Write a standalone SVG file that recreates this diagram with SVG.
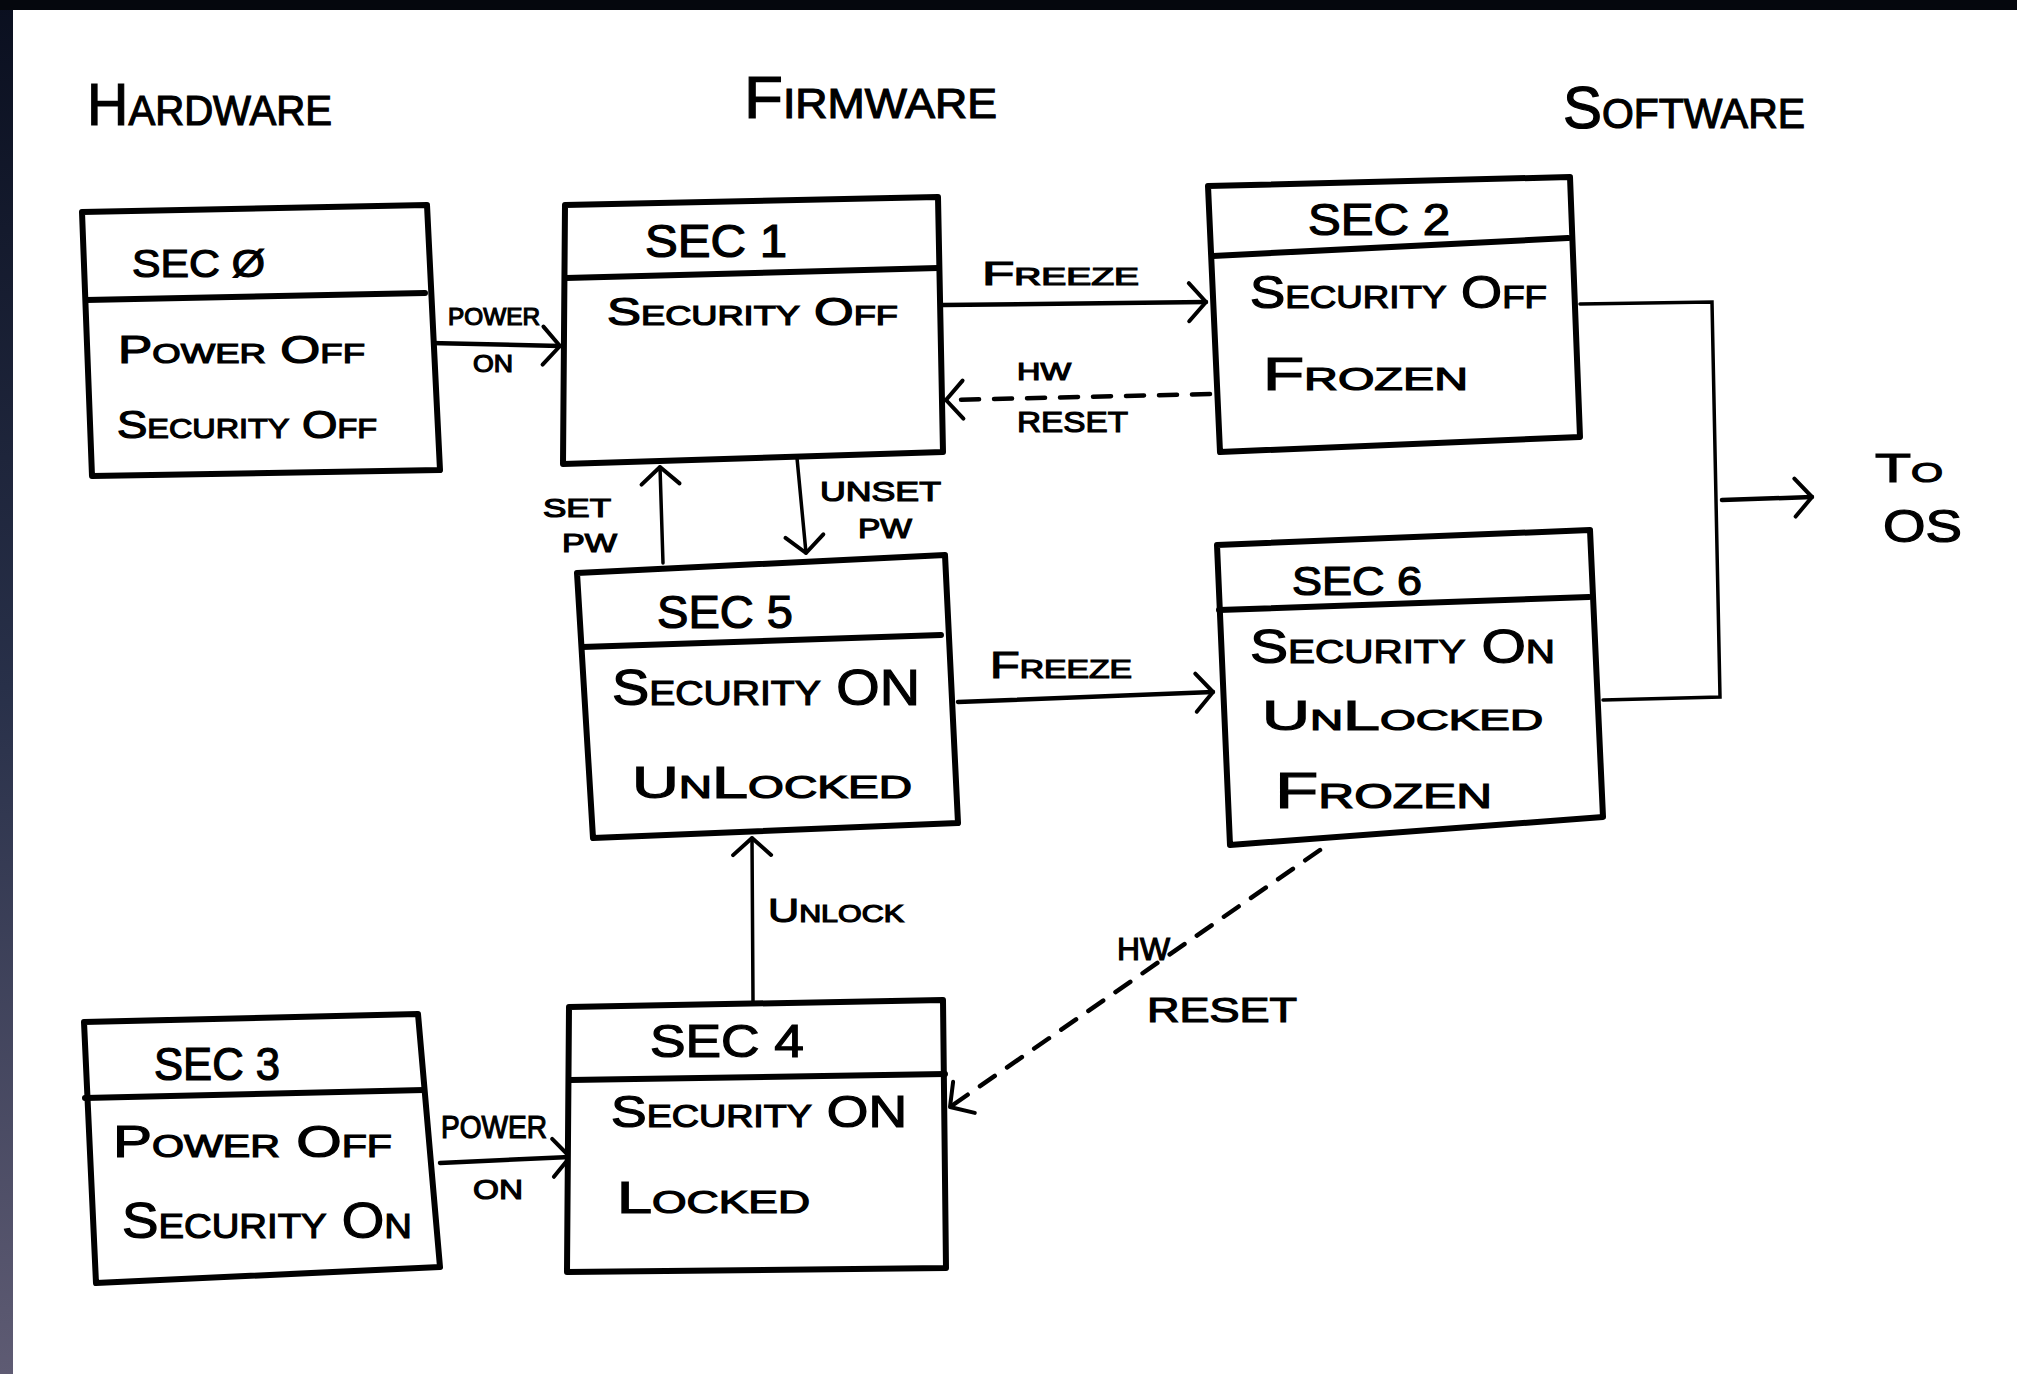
<svg xmlns="http://www.w3.org/2000/svg" width="2017" height="1374" viewBox="0 0 2017 1374">
<defs>
<linearGradient id="edge" x1="0" y1="0" x2="0" y2="1">
<stop offset="0" stop-color="#0a0f1f"/>
<stop offset="0.5" stop-color="#283049"/>
<stop offset="1" stop-color="#5e5b73"/>
</linearGradient>
<marker id="arr" viewBox="-22 -24 26 48" refX="0" refY="0" markerWidth="26" markerHeight="48" markerUnits="userSpaceOnUse" orient="auto">
<path d="M-17,-19 L0,0 L-17,19" fill="none" stroke="#000" stroke-width="4" stroke-linecap="round" stroke-linejoin="round"/>
</marker>
<style>
.box{fill:#fff;stroke:#000;stroke-width:6;stroke-linejoin:round}
.div{fill:none;stroke:#000;stroke-width:6;stroke-linecap:round}
.t{font-family:"Liberation Sans",Arial,sans-serif;font-variant:small-caps;fill:#000;stroke:#000;stroke-width:1.2}
.c{fill:none;stroke:#000;stroke-width:4.5;stroke-linecap:round}
.thin{stroke-width:3.5}
.dash{stroke-dasharray:18 15}
</style>
</defs>
<rect width="2017" height="1374" fill="#fff"/>
<rect x="0" y="0" width="13" height="1374" fill="url(#edge)"/>
<rect x="0" y="0" width="2017" height="10" fill="#05070d"/>

<g id="headings">
<text class="t" x="87" y="125" font-size="60" textLength="245" lengthAdjust="spacingAndGlyphs">Hardware</text>
<text class="t" x="744" y="118" font-size="60" textLength="253" lengthAdjust="spacingAndGlyphs">Firmware</text>
<text class="t" x="1563" y="128" font-size="60" textLength="242" lengthAdjust="spacingAndGlyphs">Software</text>
</g>

<g id="connectors">
<path class="c" d="M430,343 L560,346" marker-end="url(#arr)"/>
<path class="c" d="M943,305 L1206,302" marker-end="url(#arr)"/>
<path class="c dash" d="M1210,394 L946,400" marker-end="url(#arr)"/>
<path class="c thin" d="M797,458 L806,553" marker-end="url(#arr)"/>
<path class="c thin" d="M663,563 L660,467" marker-end="url(#arr)"/>
<path class="c" d="M958,702 L1213,692" marker-end="url(#arr)"/>
<path class="c thin" d="M753,1001 L752,838" marker-end="url(#arr)"/>
<path class="c dash" d="M1320,850 L950,1107" marker-end="url(#arr)"/>
<path class="c" d="M440,1163 L570,1157" marker-end="url(#arr)"/>
<path class="c thin" d="M1580,304 L1712,302 L1720,697 L1603,700"/>
<path class="c" d="M1722,500 L1812,497" marker-end="url(#arr)"/>
<text class="t" x="448" y="325" font-size="24" textLength="92" lengthAdjust="spacingAndGlyphs">POWER</text>
<text class="t" x="473" y="372" font-size="24" textLength="40" lengthAdjust="spacingAndGlyphs">ON</text>
<text class="t" x="982" y="285" font-size="34" textLength="157" lengthAdjust="spacingAndGlyphs">Freeze</text>
<text class="t" x="1017" y="380" font-size="24" textLength="54" lengthAdjust="spacingAndGlyphs">HW</text>
<text class="t" x="1017" y="432" font-size="30" textLength="111" lengthAdjust="spacingAndGlyphs">RESET</text>
<text class="t" x="543" y="517" font-size="26" textLength="68" lengthAdjust="spacingAndGlyphs">SET</text>
<text class="t" x="562" y="552" font-size="26" textLength="55" lengthAdjust="spacingAndGlyphs">PW</text>
<text class="t" x="820" y="501" font-size="27" textLength="121" lengthAdjust="spacingAndGlyphs">UNSET</text>
<text class="t" x="858" y="538" font-size="27" textLength="54" lengthAdjust="spacingAndGlyphs">PW</text>
<text class="t" x="990" y="678" font-size="36" textLength="142" lengthAdjust="spacingAndGlyphs">Freeze</text>
<text class="t" x="768" y="922" font-size="34" textLength="136" lengthAdjust="spacingAndGlyphs">Unlock</text>
<text class="t" x="441" y="1138" font-size="32" textLength="106" lengthAdjust="spacingAndGlyphs">POWER</text>
<text class="t" x="473" y="1199" font-size="28" textLength="50" lengthAdjust="spacingAndGlyphs">ON</text>
<text class="t" x="1117" y="960" font-size="32" textLength="53" lengthAdjust="spacingAndGlyphs">HW</text>
<text class="t" x="1147" y="1022" font-size="35" textLength="150" lengthAdjust="spacingAndGlyphs">RESET</text>
<text class="t" x="1875" y="482" font-size="40" textLength="68" lengthAdjust="spacingAndGlyphs">To</text>
<text class="t" x="1883" y="542" font-size="46" textLength="79" lengthAdjust="spacingAndGlyphs">OS</text>
</g>

<g id="sec0">
<path class="box" d="M82,212 L427,205 L440,470 L92,476 Z"/>
<path class="div" d="M86,300 L425,293"/>
<text class="t" x="132" y="277" font-size="39" textLength="133" lengthAdjust="spacingAndGlyphs">SEC Ø</text>
<text class="t" x="118" y="363" font-size="38" textLength="247" lengthAdjust="spacingAndGlyphs">Power Off</text>
<text class="t" x="117" y="438" font-size="38" textLength="260" lengthAdjust="spacingAndGlyphs">Security Off</text>
</g>

<g id="sec1">
<path class="box" d="M565,205 L938,197 L943,452 L563,464 Z"/>
<path class="div" d="M566,278 L938,268"/>
<text class="t" x="645" y="257" font-size="46" textLength="142" lengthAdjust="spacingAndGlyphs">SEC 1</text>
<text class="t" x="607" y="325" font-size="38" textLength="291" lengthAdjust="spacingAndGlyphs">Security Off</text>
</g>

<g id="sec2">
<path class="box" d="M1208,186 L1570,177 L1580,437 L1220,452 Z"/>
<path class="div" d="M1213,256 L1568,238"/>
<text class="t" x="1308" y="235" font-size="44" textLength="142" lengthAdjust="spacingAndGlyphs">SEC 2</text>
<text class="t" x="1250" y="308" font-size="46" textLength="297" lengthAdjust="spacingAndGlyphs">Security Off</text>
<text class="t" x="1263" y="390" font-size="46" textLength="205" lengthAdjust="spacingAndGlyphs">Frozen</text>
</g>

<g id="sec5">
<path class="box" d="M577,573 L945,555 L958,823 L593,838 Z"/>
<path class="div" d="M582,647 L941,635"/>
<text class="t" x="657" y="628" font-size="46" textLength="136" lengthAdjust="spacingAndGlyphs">SEC 5</text>
<text class="t" x="612" y="705" font-size="50" textLength="308" lengthAdjust="spacingAndGlyphs">Security ON</text>
<text class="t" x="632" y="798" font-size="45" textLength="280" lengthAdjust="spacingAndGlyphs">UnLocked</text>
</g>

<g id="sec6">
<path class="box" d="M1217,545 L1590,530 L1603,817 L1230,845 Z"/>
<path class="div" d="M1219,610 L1589,597"/>
<text class="t" x="1292" y="595" font-size="40" textLength="130" lengthAdjust="spacingAndGlyphs">SEC 6</text>
<text class="t" x="1250" y="663" font-size="48" textLength="305" lengthAdjust="spacingAndGlyphs">Security On</text>
<text class="t" x="1262" y="730" font-size="42" textLength="281" lengthAdjust="spacingAndGlyphs">UnLocked</text>
<text class="t" x="1275" y="808" font-size="50" textLength="217" lengthAdjust="spacingAndGlyphs">Frozen</text>
</g>

<g id="sec3">
<path class="box" d="M84,1022 L418,1014 L440,1267 L96,1283 Z"/>
<path class="div" d="M85,1098 L424,1090"/>
<text class="t" x="154" y="1080" font-size="46" textLength="126" lengthAdjust="spacingAndGlyphs">SEC 3</text>
<text class="t" x="113" y="1157" font-size="44" textLength="279" lengthAdjust="spacingAndGlyphs">Power Off</text>
<text class="t" x="122" y="1238" font-size="50" textLength="290" lengthAdjust="spacingAndGlyphs">Security On</text>
</g>

<g id="sec4">
<path class="box" d="M569,1007 L943,1000 L946,1268 L567,1272 Z"/>
<path class="div" d="M570,1080 L945,1074"/>
<text class="t" x="650" y="1057" font-size="46" textLength="154" lengthAdjust="spacingAndGlyphs">SEC 4</text>
<text class="t" x="611" y="1127" font-size="44" textLength="296" lengthAdjust="spacingAndGlyphs">Security ON</text>
<text class="t" x="617" y="1213" font-size="44" textLength="193" lengthAdjust="spacingAndGlyphs">Locked</text>
</g>
</svg>
